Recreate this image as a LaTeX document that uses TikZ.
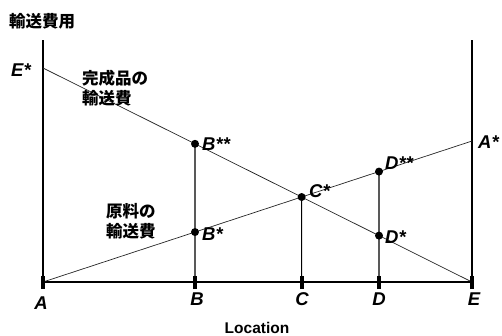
\documentclass[tikz,border=0pt]{standalone}
\usepackage{fontspec}
\setmainfont{Liberation Sans}
\newfontfamily\jpfont{Noto Sans CJK JP}
\begin{document}
\begin{tikzpicture}[x=1pt,y=-1pt,
  axis/.style={line width=1.3pt,black},
  costline/.style={line width=0.7pt,black!85},
  riser/.style={line width=1.1pt,black},
  tickmark/.style={line width=4pt,black},
  dot/.style={circle,fill=black,inner sep=0pt,minimum size=8pt},
  lbl/.style={font=\fontsize{18.5}{18}\selectfont\bfseries\itshape,inner sep=0pt},
  jp/.style={font=\jpfont\bfseries\fontsize{16.5}{20}\selectfont,inner sep=0pt,align=left},
  loc/.style={font=\fontsize{15.5}{16}\selectfont\bfseries,inner sep=0pt}]
\useasboundingbox (0,0) rectangle (502,335);
% base points
\coordinate (A) at (43,282);
\coordinate (B) at (195,282);
\coordinate (C) at (301.6,282);
\coordinate (D) at (379,282);
\coordinate (E) at (472,282);
\coordinate (Estar) at (43,68);
\coordinate (Astar) at (472,141);
\coordinate (Ltop) at (43,40);
\coordinate (Rtop) at (472,40);
\coordinate (Bt) at (195,0);
\coordinate (Ct) at (301.6,0);
\coordinate (Dt) at (379,0);
\coordinate (Bss) at (intersection of Estar--E and B--Bt);
\coordinate (Bs) at (intersection of A--Astar and B--Bt);
\coordinate (Cs) at (intersection of Estar--E and A--Astar);
\coordinate (Dss) at (intersection of A--Astar and D--Dt);
\coordinate (Ds) at (intersection of Estar--E and D--Dt);
% axes
\draw[axis] (Ltop) -- (A) -- (E) -- (Rtop);
% cost lines
\draw[costline] (Estar) -- (E);
\draw[costline] (A) -- (Astar);
% risers
\draw[riser] (Bss) -- (B);
\draw[riser] (Cs) -- (C);
\draw[riser] (Dss) -- (D);
% ticks
\foreach \p in {A,B,C,D,E}{
  \draw[tickmark] ([yshift=-7pt]\p) -- ([yshift=6pt]\p);
}
% dots
\foreach \p in {Bss,Bs,Cs,Dss,Ds}{
  \node[dot] at (\p) {};
}
% labels
\node[lbl,anchor=base west] (lEs) at (11,76) {E*};
\node[lbl,anchor=base west] (lAs) at (478,148) {A*};
\node[lbl,anchor=base west] (lBss) at (202,150) {B**};
\node[lbl,anchor=base west] (lBs) at (202,240) {B*};
\node[lbl,anchor=base west] (lCs) at (309,197) {C*};
\node[lbl,anchor=base west] (lDss) at (385,169) {D**};
\node[lbl,anchor=base west] (lDs) at (385,243) {D*};
\node[lbl,anchor=base] (lA) at (41,309) {A};
\node[lbl,anchor=base] (lB) at (197,305) {B};
\node[lbl,anchor=base] (lC) at (302,305) {C};
\node[lbl,anchor=base] (lD) at (379,305) {D};
\node[lbl,anchor=base] (lE) at (474,305) {E};
\node[jp,anchor=base west] (ttl) at (9,27) {輸送費用};
\node[jp,anchor=base west] (fin) at (82,104) {完成品の\\輸送費};
\node[jp,anchor=base west] (raw) at (106,237) {原料の\\輸送費};
\node[loc,anchor=base] (xl) at (257,333) {Location};
\end{tikzpicture}
\end{document}
